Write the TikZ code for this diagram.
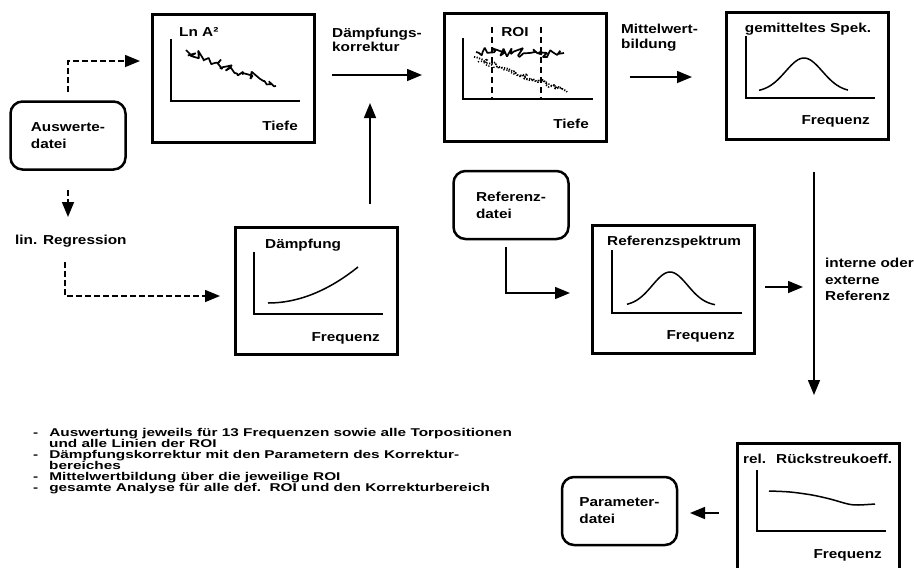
\documentclass[tikz,border=0pt]{standalone}
\usepackage{fontspec}
\newfontfamily\labfont{Liberation Sans}[FakeStretch=1.18]
\newfontfamily\notefont{Liberation Sans}[FakeStretch=1.36]
\usetikzlibrary{arrows.meta}
\usetikzlibrary{decorations.pathmorphing}
\tikzset{
	every node/.style={
		font=\labfont\bfseries\fontsize{13}{15}\selectfont},
	plotbox/.style={
		draw, line width=3pt,
		minimum width=162pt, minimum height=128pt,
		inner sep=0pt},
	filebox/.style={
		draw, line width=2.5pt, rounded corners=12pt,
		minimum width=115pt, minimum height=68pt,
		align=left, font=\labfont\bfseries\fontsize{13}{17}\selectfont},
	lbl/.style={
		inner sep=0pt, anchor=base west},
	note/.style={
		lbl, font=\notefont\bfseries\fontsize{11.3}{11}\selectfont},
	flow/.style={
		-{Triangle[length=15pt,width=12pt]},
		line width=1.5pt},
	dflow/.style={
		flow, dash pattern=on 6pt off 3pt},
	axisline/.style={line width=1.5pt},
	sigline/.style={line width=1.5pt},
	noisy/.style={
		line width=1.7pt, line join=bevel, decorate,
		decoration={random steps, segment length=2.5pt, amplitude=4.5pt}}
}

\begin{document}
\begin{tikzpicture}[x=1pt, y=-1pt]
	\pgfmathsetseed{17}
	\useasboundingbox (0,0) rectangle (914,568);
	\clip (0,0) rectangle (914,568);

	% Dateien
	\node[filebox] (ausw) at (68,135.5) {Auswerte-\\datei};
	\node[filebox] (refdat) at (511,205) {Referenz-\\datei};
	\node[filebox] (param) at (619.5,511) {Parameter-\\datei};

	% Diagramme
	\node[plotbox] (lnA) at (233,78.5) {};
	\node[plotbox, minimum height=127pt] (daempf) at (316.5,290.5) {};
	\node[plotbox] (roi) at (525,77) {};
	\node[plotbox, minimum height=127pt] (gemit) at (807.5,75.5) {};
	\node[plotbox] (refspek) at (673.5,289) {};
	\node[plotbox] (rel) at (818.5,507) {};

	% Ln A^2 ueber Tiefe
	\draw[axisline] (171,39) |- (300,101);
	\draw[noisy] (186,50) -- (276,86);
	\node[lbl] (lnAt) at (179,36) {Ln A²};
	\node[lbl, anchor=base east] (lnAx) at (298,130) {Tiefe};

	% Daempfung ueber Frequenz
	\draw[axisline] (254,252) |- (383,314);
	\draw[sigline] plot[domain=268:358, samples=30, smooth]
		(\x, {303-36*((\x-268)/90)*((\x-268)/90)});
	\node[lbl] (daempft) at (265,248) {Dämpfung};
	\node[lbl, anchor=base east] (daempfx) at (380,341) {Frequenz};

	% ROI
	\draw[axisline] (463,38) |- (593,99);
	\draw[axisline, dash pattern=on 6pt off 4pt] (492,27) -- (492,100);
	\draw[axisline, dash pattern=on 6pt off 4pt] (541,27) -- (541,100);
	\draw[noisy] (476,52) -- (564,53);
	\draw[noisy, dash pattern=on 1.2pt off 1.4pt, line width=1.8pt,
		decoration={random steps, segment length=3pt, amplitude=3pt}] (474,57) -- (567,92);
	\draw[noisy, dash pattern=on 1.2pt off 2pt, line width=1.4pt,
		decoration={random steps, segment length=3pt, amplitude=2pt}] (478,62) -- (562,89);
	\node[lbl, anchor=base] (roit) at (515,36) {ROI};
	\node[lbl, anchor=base east] (roix) at (589,128) {Tiefe};

	% gemitteltes Spektrum
	\draw[axisline] (746,36) |- (875,98);
	\draw[sigline] plot[domain=759:848, samples=40, smooth]
		(\x, {92-34*exp(-((\x-804)/26)*((\x-804)/26))});
	\node[lbl, anchor=base] (gemitt) at (808,32) {gemitteltes Spek.};
	\node[lbl, anchor=base east] (gemitx) at (870,124) {Frequenz};

	% Referenzspektrum
	\draw[axisline] (612,250) |- (742,313);
	\draw[sigline] plot[domain=627:715, samples=40, smooth]
		(\x, {306-34*exp(-((\x-670)/25)*((\x-670)/25))});
	\node[lbl] (refspekt) at (607,245) {Referenzspektrum};
	\node[lbl, anchor=base east] (refspekx) at (735,339) {Frequenz};

	% rel. Rueckstreukoeffizient
	\draw[axisline] (757,470) |- (886,531);
	\draw[sigline] plot[smooth] coordinates {(769,491) (790,492) (812,495)
		(830,499) (848,504) (858,505) (875,504)};
	\node[lbl] (relt) at (743,463) {rel.\hspace{10pt}Rückstreukoeff.};
	\node[lbl, anchor=base east] (relx) at (882,558) {Frequenz};

	% Beschriftungen
	\node[lbl] (linreg) at (15,244) {lin. Regression};
	\node[lbl] (korr1) at (332,37) {Dämpfungs-};
	\node[lbl] (korr2) at (332,51) {korrektur};
	\node[lbl] (mittel1) at (621,33) {Mittelwert-};
	\node[lbl] (mittel2) at (621,48) {bildung};
	\node[lbl] (ref1) at (825,267) {interne oder};
	\node[lbl] (ref2) at (825,284) {externe};
	\node[lbl] (ref3) at (825,300) {Referenz};

	% Verbindungen
	\coordinate (lnAin) at (140,61);
	\coordinate (regin) at (68,217);
	\coordinate (regout) at (65,262);
	\coordinate (daempfin) at (220,296);
	\coordinate (korrin) at (370,204);
	\coordinate (korrout) at (370,103);
	\coordinate (roiin) at (332,75);
	\coordinate (roiout) at (422,75);
	\coordinate (gemitin) at (630,77);
	\coordinate (gemitout) at (692,77);
	\coordinate (relin) at (814,172);
	\coordinate (relout) at (814,395);
	\coordinate (refdatout) at (506,247);
	\coordinate (refspekin) at (570,293);
	\coordinate (refspekout) at (765,287);
	\coordinate (refline) at (803,287);
	\coordinate (paramin) at (690,513);
	\coordinate (relrueck) at (719,513);

	\draw[dflow] ([yshift=8pt]ausw.north) |- (lnAin);
	\draw[dflow] ([yshift=-19pt]ausw.south) -- (regin);
	\draw[dflow] (regout) |- (daempfin);
	\draw[flow] (korrin) -- (korrout);
	\draw[flow] (roiin) -- (roiout);
	\draw[flow] (gemitin) -- (gemitout);
	\draw[flow] (relin) -- (relout);
	\draw[flow] (refdatout) |- (refspekin);
	\draw[flow] (refspekout) -- (refline);
	\draw[flow] (relrueck) -- (paramin);

	% Hinweise
	\node[note] (note1) at (33,436) {-\hspace{11pt}Auswertung jeweils für 13 Frequenzen sowie alle Torpositionen};
	\node[note] (note2) at (49,447) {und alle Linien der ROI};
	\node[note] (note3) at (33,458) {-\hspace{11pt}Dämpfungskorrektur mit den Parametern des Korrektur-};
	\node[note] (note4) at (49,469) {bereiches};
	\node[note] (note5) at (33,480) {-\hspace{11pt}Mittelwertbildung über die jeweilige ROI};
	\node[note] (note6) at (33,491) {-\hspace{11pt}gesamte Analyse für alle def.\ \ ROI und den Korrekturbereich};
\end{tikzpicture}
\end{document}
